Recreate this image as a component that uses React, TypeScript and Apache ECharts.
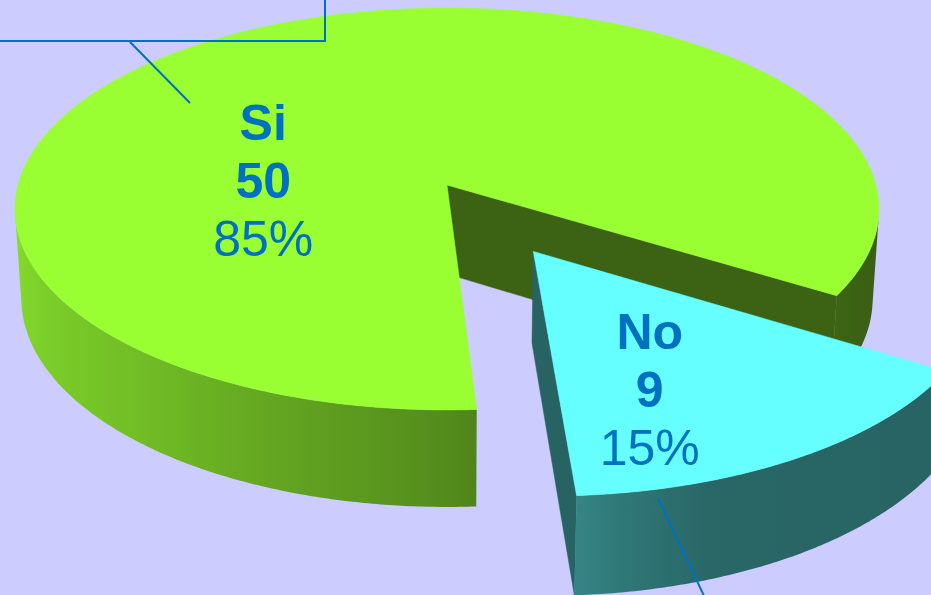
import React, { useEffect, useRef } from 'react';
import * as echarts from 'echarts';

// ---- data ----
const categories: string[] = ['Si', 'No'];
const counts: number[] = [50, 9];

// ---- style / layout ----
const W = 931;
const H = 595;
const BG = '#ccccff';
const TOP_COLORS = ['#99ff33', '#66ffff'];
const LABEL_COLOR = '#0070c0';
const FONT = '"Liberation Sans", Arial, sans-serif';
const FONT_SIZE = 50;
const START_ANGLE = 86.5; // degrees, clockwise from the right
const EXPLODE = [0, 0.376];
const LABEL_SPOT = [
  [182.7, 0.43],
  [69.2, 0.64],
];

// perspective projection of a unit-radius disc
const CX = 447;
const CY = 185;
const FOCAL = 3187;
const DIST = 7.43;
const SIN_A = 0.4618;
const COS_A = 0.887;
const THICK = 0.237;
const RAD = Math.PI / 180;

function proj(x: number, y: number, z: number): number[] {
  const yc = z * SIN_A - y * COS_A;
  const d = DIST - z * COS_A - y * SIN_A;
  return [CX + (FOCAL * x) / d, CY + (FOCAL * yc) / d];
}

const SHADE = [
  [0, 0.36],
  [30, 0.39],
  [70, 0.4],
  [80, 0.46],
  [90, 0.55],
  [130, 0.74],
  [171, 0.87],
  [180, 0.88],
];

function shadeAt(deg: number): number {
  let d = ((deg % 360) + 360) % 360;
  if (d > 180) d = d < 270 ? 180 : 0;
  for (let i = 1; i < SHADE.length; i++) {
    if (d <= SHADE[i][0]) {
      const [a0, f0] = SHADE[i - 1];
      const [a1, f1] = SHADE[i];
      return f0 + ((f1 - f0) * (d - a0)) / (a1 - a0);
    }
  }
  return SHADE[SHADE.length - 1][1];
}

function scaleColor(hex: string, k: number): string {
  const n = parseInt(hex.slice(1), 16);
  const r = Math.round(((n >> 16) & 255) * k);
  const g = Math.round(((n >> 8) & 255) * k);
  const b = Math.round((n & 255) * k);
  return `rgb(${r},${g},${b})`;
}

const CAM = [0, DIST * SIN_A, DIST * COS_A];

function renderItem(params: any, api: any) {
  const i = params.dataIndex;
  const v = api.value(0);
  const total = counts.reduce((s, c) => s + c, 0);
  let before = 0;
  for (let j = 0; j < i; j++) before += counts[j];
  const a0 = START_ANGLE + (before / total) * 360;
  const a1 = a0 + (v / total) * 360;
  const mid = ((a0 + a1) / 2) * RAD;
  const ox = EXPLODE[i] * Math.cos(mid);
  const oz = EXPLODE[i] * Math.sin(mid);
  const base = TOP_COLORS[i];
  const rim = (deg: number, y: number) =>
    proj(ox + Math.cos(deg * RAD), y, oz + Math.sin(deg * RAD));
  const children: any[] = [];

  // cut faces
  const faces: [number, boolean][] = [
    [a0, true],
    [a1, false],
  ];
  faces.forEach(([deg, isStart]) => {
    const t = deg * RAD;
    const n = isStart ? [Math.sin(t), 0, -Math.cos(t)] : [-Math.sin(t), 0, Math.cos(t)];
    const P = [ox + 0.5 * Math.cos(t), -THICK / 2, oz + 0.5 * Math.sin(t)];
    const dot = n[0] * (CAM[0] - P[0]) + n[1] * (CAM[1] - P[1]) + n[2] * (CAM[2] - P[2]);
    if (dot > 0) {
      children.push({
        type: 'polygon',
        shape: {
          points: [proj(ox, 0, oz), rim(deg, 0), rim(deg, -THICK), proj(ox, -THICK, oz)],
        },
        style: { fill: scaleColor(base, 0.39), stroke: scaleColor(base, 0.39), lineWidth: 0.5 },
      });
    }
  });

  // outer walls
  const samples: number[] = [];
  const steps = Math.max(2, Math.ceil((a1 - a0) / 0.5));
  for (let s = 0; s <= steps; s++) samples.push(a0 + ((a1 - a0) * s) / steps);
  const visible = (deg: number) => {
    const t = deg * RAD;
    const P = [ox + Math.cos(t), -THICK / 2, oz + Math.sin(t)];
    return Math.cos(t) * (CAM[0] - P[0]) + Math.sin(t) * (CAM[2] - P[2]) > 0;
  };
  const runs: number[][] = [];
  let cur: number[] = [];
  samples.forEach((d) => {
    if (visible(d)) cur.push(d);
    else if (cur.length) {
      runs.push(cur);
      cur = [];
    }
  });
  if (cur.length) runs.push(cur);
  runs.forEach((run) => {
    if (run.length < 2) return;
    const top = run.map((d) => rim(d, 0));
    const bot = run.map((d) => rim(d, -THICK)).reverse();
    const pts = top.concat(bot);
    const xs = pts.map((p) => p[0]);
    const xmin = Math.min(...xs);
    const xmax = Math.max(...xs);
    const stops: any[] = [];
    run.forEach((d, k) => {
      if (k % 4 !== 0 && k !== run.length - 1) return;
      const off = Math.min(1, Math.max(0, (top[k][0] - xmin) / (xmax - xmin || 1)));
      stops.push({ offset: off, color: scaleColor(base, shadeAt(d)) });
    });
    stops.sort((p, q) => p.offset - q.offset);
    children.push({
      type: 'polygon',
      shape: { points: pts },
      style: { fill: new echarts.graphic.LinearGradient(0, 0, 1, 0, stops) },
    });
  });

  // top face
  const topPts = [proj(ox, 0, oz)];
  samples.forEach((d) => topPts.push(rim(d, 0)));
  children.push({
    type: 'polygon',
    shape: { points: topPts },
    style: { fill: base, stroke: base, lineWidth: 0.5 },
  });

  // label: name / value / percent
  const [la, lr] = LABEL_SPOT[i];
  const lp = proj(ox + lr * Math.cos(la * RAD), 0, oz + lr * Math.sin(la * RAD));
  const pct = Math.round((v / total) * 100) + '%';
  const lines: [string, string, number][] = [
    [categories[i], 'bold', -58],
    [String(v), 'bold', 0],
    [pct, 'normal', 58],
  ];
  lines.forEach(([txt, weight, dy]) => {
    children.push({
      type: 'text',
      x: lp[0],
      y: lp[1] + dy,
      style: {
        text: txt,
        fill: LABEL_COLOR,
        fontSize: FONT_SIZE,
        fontWeight: weight,
        fontFamily: FONT,
        align: 'center',
        verticalAlign: 'middle',
      },
    });
  });

  return { type: 'group', children };
}

export default function App() {
  const ref = useRef<HTMLDivElement>(null);
  useEffect(() => {
    document.body.style.margin = '0';
    const chart = echarts.init(ref.current!, undefined, { renderer: 'svg' });
    chart.setOption({
      animation: false,
      backgroundColor: BG,
      series: [
        {
          type: 'custom',
          coordinateSystem: 'none',
          renderItem,
          data: counts.map((c, k) => ({ name: categories[k], value: [c] })),
        },
      ],
      graphic: [
        {
          type: 'rect',
          shape: { x: -4, y: -4, width: 329, height: 45 },
          style: { fill: 'none', stroke: LABEL_COLOR, lineWidth: 2 },
          z: 10,
        },
        {
          type: 'line',
          shape: { x1: 130, y1: 42, x2: 190, y2: 103 },
          style: { stroke: LABEL_COLOR, lineWidth: 2 },
          z: 10,
        },
        {
          type: 'line',
          shape: { x1: 658, y1: 498, x2: 705, y2: 598 },
          style: { stroke: LABEL_COLOR, lineWidth: 2 },
          z: 10,
        },
      ],
    });
    return () => chart.dispose();
  }, []);
  return <div ref={ref} style={{ width: W, height: H }} />;
}
